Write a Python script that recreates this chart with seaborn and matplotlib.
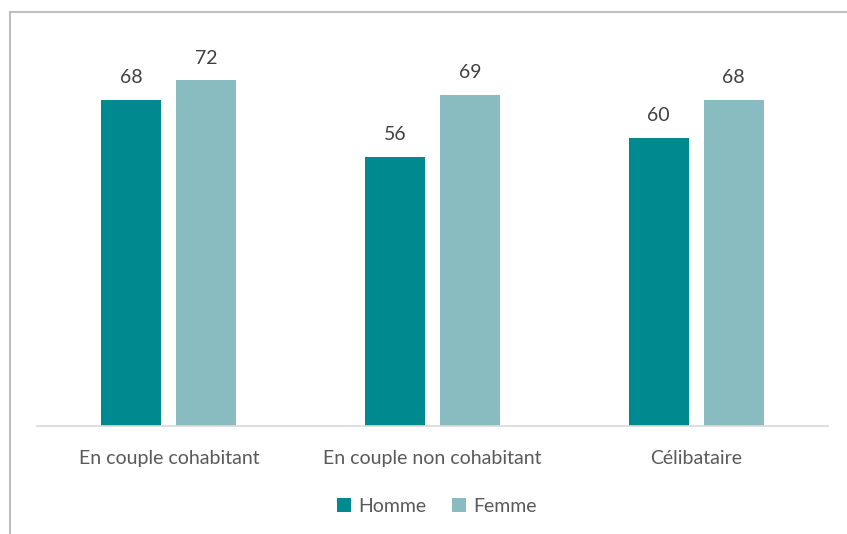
import pandas as pd
import matplotlib.pyplot as plt
import seaborn as sns
from matplotlib.patches import Rectangle

# Data
categories = ['En couple cohabitant', 'En couple non cohabitant', 'Célibataire']
homme = [68, 56, 60]
femme = [72, 69, 68]
series = ['Homme', 'Femme']

df = pd.DataFrame({
    'statut': categories * 2,
    'sexe': [series[0]] * 3 + [series[1]] * 3,
    'valeur': homme + femme,
})

sns.set_theme(style='white')
plt.rcParams['font.family'] = ['Lato', 'DejaVu Sans']

W, H = 847, 534
fig = plt.figure(figsize=(W / 100, H / 100), dpi=100)
ax = fig.add_axes([37 / W, 1 - 426 / H, (828 - 37) / W, (426 - 42) / H])

palette = {'Homme': '#00898F', 'Femme': '#88BCC1'}
sns.barplot(data=df, x='statut', y='valeur', hue='sexe', order=categories,
            hue_order=series, palette=palette, width=0.568, gap=0.2,
            saturation=1, linewidth=0, ax=ax, legend=True)

ax.set_ylim(0, 80)
ax.set_xlim(-0.5, 2.5)
for c in ax.containers:
    ax.bar_label(c, fmt='%d', padding=10, fontsize=14, color='#404040')

ax.set_xlabel('')
ax.set_ylabel('')
ax.set_yticks([])
ax.tick_params(axis='x', length=0, pad=17, labelsize=14, labelcolor='#595959')
for s in ['top', 'right', 'left']:
    ax.spines[s].set_visible(False)
ax.spines['bottom'].set_color('#D9D9D9')
ax.spines['bottom'].set_linewidth(1.2)

handles, labels = ax.get_legend_handles_labels()
ax.get_legend().remove()
fig.legend(handles, labels, loc='center', bbox_to_anchor=(437 / W, 1 - 506 / H),
           ncol=2, frameon=False, fontsize=14, handlelength=0.7, handleheight=0.7,
           handletextpad=0.4, columnspacing=1.3, labelcolor='#595959')

# outer frame (left and top edges visible, rest cut off)
fig.patches.append(Rectangle((9.5 / W, -0.1), 1.0, 1.1 - 12 / H, transform=fig.transFigure,
                             fill=False, edgecolor='#BFBFBF', linewidth=1.5))

fig.savefig('out.png', dpi=100, facecolor='white')
